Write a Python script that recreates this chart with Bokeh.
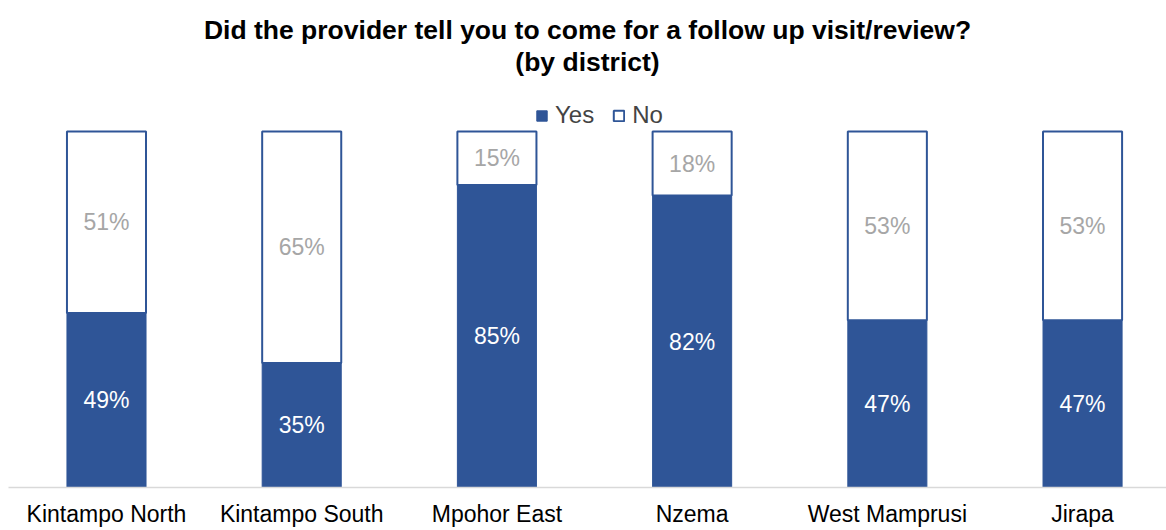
from bokeh.plotting import figure
from bokeh.models import ColumnDataSource, LabelSet, Range1d, FixedTicker, Legend, LegendItem, Title
from bokeh.core.properties import value
from bokeh.embed import file_html
from bokeh.resources import INLINE

districts = ["Kintampo North", "Kintampo South", "Mpohor East", "Nzema", "West Mamprusi", "Jirapa"]
yes_vals = [49, 35, 85, 82, 47, 47]
no_vals = [51, 65, 15, 18, 53, 53]
title_lines = ["Did the provider tell you to come for a follow up visit/review?", "(by district)"]

BLUE = "#2F5597"
FONT = "Liberation Sans"

xs = list(range(len(districts)))
yes_f = [v / 100 for v in yes_vals]
no_f = [v / 100 for v in no_vals]
src = ColumnDataSource(dict(x=xs, yes=yes_f, no=no_f))

p = figure(width=1166, height=530, output_backend="svg", toolbar_location=None,
           x_range=Range1d(-0.502, 5.430), y_range=Range1d(0, 1.1545),
           min_border_left=8, min_border_right=0, min_border_top=76, min_border_bottom=43)
p.outline_line_color = None
p.grid.visible = False
p.yaxis.visible = False

rs = p.vbar_stack(["yes", "no"], x="x", width=0.405, source=src,
                  fill_color=[BLUE, "white"], line_color=[BLUE, BLUE], line_width=[1, 2])

# labels
yes_mid = [v / 2 for v in yes_f]
no_mid = [y + n / 2 for y, n in zip(yes_f, no_f)]
lsrc = ColumnDataSource(dict(x=xs, ym=yes_mid, nm=no_mid,
                             yt=[f"{v}%" for v in yes_vals], nt=[f"{v}%" for v in no_vals]))
p.add_layout(LabelSet(x="x", y="ym", text="yt", source=lsrc, text_align="center", text_baseline="middle",
                      text_color="white", text_font=value(FONT), text_font_size="23px"))
p.add_layout(LabelSet(x="x", y="nm", text="nt", source=lsrc, text_align="center", text_baseline="middle",
                      text_color="#A6A6A6", text_font=value(FONT), text_font_size="23px"))

ax = p.xaxis[0]
ax.ticker = FixedTicker(ticks=xs)
ax.major_label_overrides = {i: d for i, d in enumerate(districts)}
ax.major_tick_line_color = None
ax.minor_tick_line_color = None
ax.major_tick_out = 0
ax.major_tick_in = 0
ax.axis_line_color = "#D9D9D9"
ax.axis_line_width = 1.5
ax.major_label_text_font = FONT
ax.major_label_text_font_size = "23px"
ax.major_label_text_color = "black"
ax.major_label_standoff = 13

legend = Legend(items=[LegendItem(label="Yes", renderers=[rs[0]]), LegendItem(label="No", renderers=[rs[1]])],
                location=(527, 358), orientation="horizontal", border_line_color=None,
                background_fill_alpha=0, label_text_font=FONT, label_text_font_size="24px",
                glyph_width=13, glyph_height=13, label_standoff=7, spacing=18, padding=4, margin=0)
p.add_layout(legend)

# title lines: second line added first (closest to the plot)
for txt in reversed(title_lines):
    p.add_layout(Title(text=txt, align="center", text_font=FONT, text_font_size="26.5px",
                       text_font_style="bold", text_color="black", standoff=0), "above")

open("out.html", "w").write(file_html(p, INLINE))
